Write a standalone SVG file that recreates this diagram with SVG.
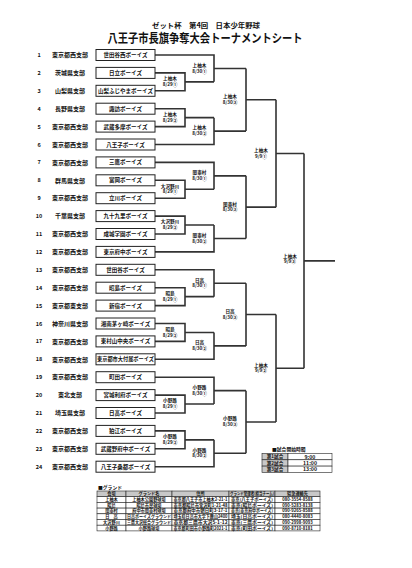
<svg xmlns="http://www.w3.org/2000/svg" width="412" height="568" viewBox="0 0 412 568">
<style>
text{font-family:"Noto Sans CJK JP","Noto Sans",sans-serif;font-weight:bold;fill:#111}
.n{font-size:5.5px;text-anchor:middle}
.b{font-size:6px;text-anchor:middle}
.t{font-size:5.5px;text-anchor:middle}
.l{font-size:4.6px;text-anchor:middle}
.box{fill:#fff;stroke:#222;stroke-width:1}
.ln{fill:none;stroke:#333;stroke-width:1.6}
.tb{font-size:4.2px;text-anchor:middle}
.cell{fill:#fff;stroke:#222;stroke-width:0.6}
.hd{fill:#c8c8c8;stroke:#222;stroke-width:0.6}
</style>
<rect width="412" height="568" fill="#fff"/>
<g id="header">
<text x="206" y="27.5" style="font-size:7px;text-anchor:middle" textLength="108" lengthAdjust="spacingAndGlyphs">ゼット杯　第4回　日本少年野球</text>
<text x="205" y="42.5" style="font-size:12px;text-anchor:middle" textLength="195" lengthAdjust="spacingAndGlyphs">八王子市長旗争奪大会トーナメントシート</text>
</g>
<g id="connectors">
<path class="ln" d="M155,72.9H185V90.8H155M185,81.85H214"/>
<path class="ln" d="M155,108.7H185V126.6H155M185,117.65H214"/>
<path class="ln" d="M155,55H214V81.85M214,68.43H246"/>
<path class="ln" d="M214,117.65V144.5H155M214,131.08H246"/>
<path class="ln" d="M246,68.43V131.08M246,99.75H276"/>
<path class="ln" d="M155,180.3H185V198.2H155M185,189.25H214"/>
<path class="ln" d="M155,216.1H185V234H155M185,225.05H214"/>
<path class="ln" d="M155,162.4H214V189.25M214,175.83H246"/>
<path class="ln" d="M214,225.05V251.9H155M214,238.48H246"/>
<path class="ln" d="M246,175.83V238.48M246,207.15H276"/>
<path class="ln" d="M276,99.75V207.15M276,153.45H304"/>
<path class="ln" d="M155,287.7H185V305.6H155M185,296.65H214"/>
<path class="ln" d="M155,323.5H185V341.4H155M185,332.45H214"/>
<path class="ln" d="M155,269.8H214V296.65M214,283.23H246"/>
<path class="ln" d="M214,332.45V359.3H155M214,345.88H246"/>
<path class="ln" d="M246,283.23V345.88M246,314.55H276"/>
<path class="ln" d="M155,395.1H185V413H155M185,404.05H214"/>
<path class="ln" d="M155,430.9H185V448.8H155M185,439.85H214"/>
<path class="ln" d="M155,377.2H214V404.05M214,390.63H246"/>
<path class="ln" d="M214,439.85V466.7H155M214,453.28H246"/>
<path class="ln" d="M246,390.63V453.28M246,421.95H276"/>
<path class="ln" d="M276,314.55V421.95M276,368.25H304"/>
<path class="ln" d="M304,153.45V368.25M304,260.85H335"/>
</g>
<g id="match-labels">
<text class="l" x="170" y="80.25">上柚木</text><text class="l" x="170" y="86.05">8/29①</text>
<text class="l" x="170" y="116.05">上柚木</text><text class="l" x="170" y="121.85">8/29②</text>
<text class="l" x="199.5" y="66.83">上柚木</text><text class="l" x="199.5" y="72.63">8/30①</text>
<text class="l" x="199.5" y="129.48">上柚木</text><text class="l" x="199.5" y="135.28">8/30②</text>
<text class="l" x="230" y="98.15">上柚木</text><text class="l" x="230" y="103.95">8/30③</text>
<text class="l" x="170" y="187.65">大沢野川</text><text class="l" x="170" y="193.45">8/29①</text>
<text class="l" x="170" y="223.45">大沢野川</text><text class="l" x="170" y="229.25">8/29②</text>
<text class="l" x="199.5" y="174.23">関東村</text><text class="l" x="199.5" y="180.03">8/30①</text>
<text class="l" x="199.5" y="236.88">関東村</text><text class="l" x="199.5" y="242.68">8/30②</text>
<text class="l" x="230" y="205.55">関東村</text><text class="l" x="230" y="211.35">8/30③</text>
<text class="l" x="261" y="151.85">上柚木</text><text class="l" x="261" y="157.65">9/9①</text>
<text class="l" x="170" y="295.05">昭島</text><text class="l" x="170" y="300.85">8/29①</text>
<text class="l" x="170" y="330.85">昭島</text><text class="l" x="170" y="336.65">8/29②</text>
<text class="l" x="199.5" y="281.63">日高</text><text class="l" x="199.5" y="287.43">8/30①</text>
<text class="l" x="199.5" y="344.28">日高</text><text class="l" x="199.5" y="350.08">8/30②</text>
<text class="l" x="230" y="312.95">日高</text><text class="l" x="230" y="318.75">8/30③</text>
<text class="l" x="170" y="402.45">小野路</text><text class="l" x="170" y="408.25">8/29①</text>
<text class="l" x="170" y="438.25">小野路</text><text class="l" x="170" y="444.05">8/29②</text>
<text class="l" x="199.5" y="389.03">小野路</text><text class="l" x="199.5" y="394.83">8/30①</text>
<text class="l" x="199.5" y="451.68">小野路</text><text class="l" x="199.5" y="457.48">8/30②</text>
<text class="l" x="230" y="420.35">小野路</text><text class="l" x="230" y="426.15">8/30③</text>
<text class="l" x="261" y="366.65">上柚木</text><text class="l" x="261" y="372.45">9/9②</text>
<text class="l" x="290" y="257.5">上柚木</text><text class="l" x="290" y="263.3">9/9③</text>
</g>
<g id="team-1"><text class="n" x="39" y="57">1</text><text class="b" x="70" y="57.2">東京都西支部</text><rect class="box" x="96" y="49.5" width="59" height="11"/><text class="t" x="125.5" y="57">世田谷西ボーイズ</text></g>
<g id="team-2"><text class="n" x="39" y="74.9">2</text><text class="b" x="70" y="75.1">茨城県支部</text><rect class="box" x="96" y="67.4" width="59" height="11"/><text class="t" x="125.5" y="74.9">日立ボーイズ</text></g>
<g id="team-3"><text class="n" x="39" y="92.8">3</text><text class="b" x="70" y="93">山梨県支部</text><rect class="box" x="96" y="85.3" width="59" height="11"/><text class="t" x="125.5" y="92.8">山梨ふじやまボーイズ</text></g>
<g id="team-4"><text class="n" x="39" y="110.7">4</text><text class="b" x="70" y="110.9">長野県支部</text><rect class="box" x="96" y="103.2" width="59" height="11"/><text class="t" x="125.5" y="110.7">諏訪ボーイズ</text></g>
<g id="team-5"><text class="n" x="39" y="128.6">5</text><text class="b" x="70" y="128.8">東京都西支部</text><rect class="box" x="96" y="121.1" width="59" height="11"/><text class="t" x="125.5" y="128.6">武蔵多摩ボーイズ</text></g>
<g id="team-6"><text class="n" x="39" y="146.5">6</text><text class="b" x="70" y="146.7">東京都西支部</text><rect class="box" x="96" y="139" width="59" height="11"/><text class="t" x="125.5" y="146.5">八王子ボーイズ</text></g>
<g id="team-7"><text class="n" x="39" y="164.4">7</text><text class="b" x="70" y="164.6">東京都西支部</text><rect class="box" x="96" y="156.9" width="59" height="11"/><text class="t" x="125.5" y="164.4">三鷹ボーイズ</text></g>
<g id="team-8"><text class="n" x="39" y="182.3">8</text><text class="b" x="70" y="182.5">群馬県支部</text><rect class="box" x="96" y="174.8" width="59" height="11"/><text class="t" x="125.5" y="182.3">富岡ボーイズ</text></g>
<g id="team-9"><text class="n" x="39" y="200.2">9</text><text class="b" x="70" y="200.4">東京都西支部</text><rect class="box" x="96" y="192.7" width="59" height="11"/><text class="t" x="125.5" y="200.2">立川ボーイズ</text></g>
<g id="team-10"><text class="n" x="39" y="218.1">10</text><text class="b" x="70" y="218.3">千葉県支部</text><rect class="box" x="96" y="210.6" width="59" height="11"/><text class="t" x="125.5" y="218.1">九十九里ボーイズ</text></g>
<g id="team-11"><text class="n" x="39" y="236">11</text><text class="b" x="70" y="236.2">東京都西支部</text><rect class="box" x="96" y="228.5" width="59" height="11"/><text class="t" x="125.5" y="236">成城学園ボーイズ</text></g>
<g id="team-12"><text class="n" x="39" y="253.9">12</text><text class="b" x="70" y="254.1">東京都西支部</text><rect class="box" x="96" y="246.4" width="59" height="11"/><text class="t" x="125.5" y="253.9">東京府中ボーイズ</text></g>
<g id="team-13"><text class="n" x="39" y="271.8">13</text><text class="b" x="70" y="272">東京都西支部</text><rect class="box" x="96" y="264.3" width="59" height="11"/><text class="t" x="125.5" y="271.8">世田谷ボーイズ</text></g>
<g id="team-14"><text class="n" x="39" y="289.7">14</text><text class="b" x="70" y="289.9">東京都西支部</text><rect class="box" x="96" y="282.2" width="59" height="11"/><text class="t" x="125.5" y="289.7">昭島ボーイズ</text></g>
<g id="team-15"><text class="n" x="39" y="307.6">15</text><text class="b" x="70" y="307.8">東京都東支部</text><rect class="box" x="96" y="300.1" width="59" height="11"/><text class="t" x="125.5" y="307.6">新宿ボーイズ</text></g>
<g id="team-16"><text class="n" x="39" y="325.5">16</text><text class="b" x="70" y="325.7">神奈川県支部</text><rect class="box" x="96" y="318" width="59" height="11"/><text class="t" x="125.5" y="325.5">湘南茅ヶ崎ボーイズ</text></g>
<g id="team-17"><text class="n" x="39" y="343.4">17</text><text class="b" x="70" y="343.6">東京都西支部</text><rect class="box" x="96" y="335.9" width="59" height="11"/><text class="t" x="125.5" y="343.4">東村山中央ボーイズ</text></g>
<g id="team-18"><text class="n" x="39" y="361.3">18</text><text class="b" x="70" y="361.5">東京都西支部</text><rect class="box" x="96" y="353.8" width="59" height="11"/><text class="t" x="125.5" y="361.3" textLength="57" lengthAdjust="spacingAndGlyphs">東京都市大付属ボーイズ</text></g>
<g id="team-19"><text class="n" x="39" y="379.2">19</text><text class="b" x="70" y="379.4">東京都西支部</text><rect class="box" x="96" y="371.7" width="59" height="11"/><text class="t" x="125.5" y="379.2">町田ボーイズ</text></g>
<g id="team-20"><text class="n" x="39" y="397.1">20</text><text class="b" x="70" y="397.3">東北支部</text><rect class="box" x="96" y="389.6" width="59" height="11"/><text class="t" x="125.5" y="397.1">宮城利府ボーイズ</text></g>
<g id="team-21"><text class="n" x="39" y="415">21</text><text class="b" x="70" y="415.2">埼玉県支部</text><rect class="box" x="96" y="407.5" width="59" height="11"/><text class="t" x="125.5" y="415">日高ボーイズ</text></g>
<g id="team-22"><text class="n" x="39" y="432.9">22</text><text class="b" x="70" y="433.1">東京都西支部</text><rect class="box" x="96" y="425.4" width="59" height="11"/><text class="t" x="125.5" y="432.9">狛江ボーイズ</text></g>
<g id="team-23"><text class="n" x="39" y="450.8">23</text><text class="b" x="70" y="451">東京都西支部</text><rect class="box" x="96" y="443.3" width="59" height="11"/><text class="t" x="125.5" y="450.8">武蔵野府中ボーイズ</text></g>
<g id="team-24"><text class="n" x="39" y="468.7">24</text><text class="b" x="70" y="468.9">東京都西支部</text><rect class="box" x="96" y="461.2" width="59" height="11"/><text class="t" x="125.5" y="468.7">八王子桑都ボーイズ</text></g>
<g id="time-table">
<text x="272" y="451" style="font-size:4.8px">■試合開始時間</text>
<rect class="hd" x="262" y="453.5" width="26" height="6.3"/><rect class="cell" x="288" y="453.5" width="44" height="6.3"/>
<rect class="hd" x="262" y="459.8" width="26" height="6.3"/><rect class="cell" x="288" y="459.8" width="44" height="6.3"/>
<rect class="hd" x="262" y="466.1" width="26" height="6.3"/><rect class="cell" x="288" y="466.1" width="44" height="6.3"/>
<text class="tb" x="275" y="458.3" style="font-size:4.6px">第1試合</text><text class="tb" x="310" y="458.5" style="font-size:5.2px">9:00</text>
<text class="tb" x="275" y="464.6" style="font-size:4.6px">第2試合</text><text class="tb" x="310" y="464.8" style="font-size:5.2px">11:00</text>
<text class="tb" x="275" y="470.9" style="font-size:4.6px">第3試合</text><text class="tb" x="310" y="471.1" style="font-size:5.2px">13:00</text>
</g>
<g id="ground-table">
<text x="98" y="489" style="font-size:4.8px">■グランド</text>
<rect class="hd" x="97" y="491" width="29" height="5.7"/><rect class="hd" x="126" y="491" width="46" height="5.7"/><rect class="hd" x="172" y="491" width="57" height="5.7"/><rect class="hd" x="229" y="491" width="46" height="5.7"/><rect class="hd" x="275" y="491" width="45" height="5.7"/>
<text class="tb" x="111.5" y="495.3">会場</text><text class="tb" x="149" y="495.3">グランド名</text><text class="tb" x="200.5" y="495.3">住所</text><text class="tb" x="252" y="495.3" textLength="44" lengthAdjust="spacingAndGlyphs">グランド管理者(担当チーム)</text><text class="tb" x="297.5" y="495.3">緊急連絡先</text>
<g>
<rect class="cell" x="97" y="496.7" width="29" height="5.7"/><rect class="cell" x="126" y="496.7" width="46" height="5.7"/><rect class="cell" x="172" y="496.7" width="57" height="5.7"/><rect class="cell" x="229" y="496.7" width="46" height="5.7"/><rect class="cell" x="275" y="496.7" width="45" height="5.7"/>
<rect class="cell" x="97" y="502.4" width="29" height="5.7"/><rect class="cell" x="126" y="502.4" width="46" height="5.7"/><rect class="cell" x="172" y="502.4" width="57" height="5.7"/><rect class="cell" x="229" y="502.4" width="46" height="5.7"/><rect class="cell" x="275" y="502.4" width="45" height="5.7"/>
<rect class="cell" x="97" y="508.1" width="29" height="5.7"/><rect class="cell" x="126" y="508.1" width="46" height="5.7"/><rect class="cell" x="172" y="508.1" width="57" height="5.7"/><rect class="cell" x="229" y="508.1" width="46" height="5.7"/><rect class="cell" x="275" y="508.1" width="45" height="5.7"/>
<rect class="cell" x="97" y="513.8" width="29" height="5.7"/><rect class="cell" x="126" y="513.8" width="46" height="5.7"/><rect class="cell" x="172" y="513.8" width="57" height="5.7"/><rect class="cell" x="229" y="513.8" width="46" height="5.7"/><rect class="cell" x="275" y="513.8" width="45" height="5.7"/>
<rect class="cell" x="97" y="519.5" width="29" height="5.7"/><rect class="cell" x="126" y="519.5" width="46" height="5.7"/><rect class="cell" x="172" y="519.5" width="57" height="5.7"/><rect class="cell" x="229" y="519.5" width="46" height="5.7"/><rect class="cell" x="275" y="519.5" width="45" height="5.7"/>
<rect class="cell" x="97" y="525.2" width="29" height="5.7"/><rect class="cell" x="126" y="525.2" width="46" height="5.7"/><rect class="cell" x="172" y="525.2" width="57" height="5.7"/><rect class="cell" x="229" y="525.2" width="46" height="5.7"/><rect class="cell" x="275" y="525.2" width="45" height="5.7"/>
</g>
<text class="tb" x="111.5" y="501">上柚木</text><text class="tb" x="149" y="501">上柚木公園野球場</text><text class="tb" x="200.5" y="501" textLength="54" lengthAdjust="spacingAndGlyphs">東京都八王子市上柚木2-21-1</text><text class="tb" x="252" y="501" textLength="42" lengthAdjust="spacingAndGlyphs">東京(八王子ボーイズ)</text><text class="tb" x="297.5" y="501">080-3554-8588</text>
<text class="tb" x="111.5" y="506.7">昭島</text><text class="tb" x="149" y="506.7">昭島市民球場</text><text class="tb" x="200.5" y="506.7" textLength="54" lengthAdjust="spacingAndGlyphs">東京都昭島市宮沢町1-21-48</text><text class="tb" x="252" y="506.7" textLength="42" lengthAdjust="spacingAndGlyphs">東京(昭島ボーイズ)</text><text class="tb" x="297.5" y="506.7">090-5283-8138</text>
<text class="tb" x="111.5" y="512.4">関東村</text><text class="tb" x="149" y="512.4">府中市関東村球場</text><text class="tb" x="200.5" y="512.4" textLength="54" lengthAdjust="spacingAndGlyphs">東京都府中市朝日町3-17-1</text><text class="tb" x="252" y="512.4" textLength="42" lengthAdjust="spacingAndGlyphs">東京(東京府中ボーイズ)</text><text class="tb" x="297.5" y="512.4">090-9265-8588</text>
<text class="tb" x="111.5" y="518.1">日　高</text><text class="tb" x="149" y="518.1" textLength="44" lengthAdjust="spacingAndGlyphs">日高ボーイズグラウンド</text><text class="tb" x="200.5" y="518.1" textLength="54" lengthAdjust="spacingAndGlyphs">埼玉県日高市大字下鹿山2400</text><text class="tb" x="252" y="518.1" textLength="42" lengthAdjust="spacingAndGlyphs">埼玉(日高ボーイズ)</text><text class="tb" x="297.5" y="518.1">080-4440-8083</text>
<text class="tb" x="111.5" y="523.8">大沢野川</text><text class="tb" x="149" y="523.8" textLength="44" lengthAdjust="spacingAndGlyphs">三鷹大沢総合グラウンド</text><text class="tb" x="200.5" y="523.8" textLength="54" lengthAdjust="spacingAndGlyphs">東京都三鷹市大沢5-1-12</text><text class="tb" x="252" y="523.8" textLength="42" lengthAdjust="spacingAndGlyphs">東京(三鷹ボーイズ)</text><text class="tb" x="297.5" y="523.8">090-2998-9093</text>
<text class="tb" x="111.5" y="529.5">小野路</text><text class="tb" x="149" y="529.5">小野路球場</text><text class="tb" x="200.5" y="529.5" textLength="54" lengthAdjust="spacingAndGlyphs">東京都町田市小野路町2021-1</text><text class="tb" x="252" y="529.5" textLength="42" lengthAdjust="spacingAndGlyphs">東京(町田ボーイズ)</text><text class="tb" x="297.5" y="529.5">090-8710-8181</text>
</g>
</svg>
